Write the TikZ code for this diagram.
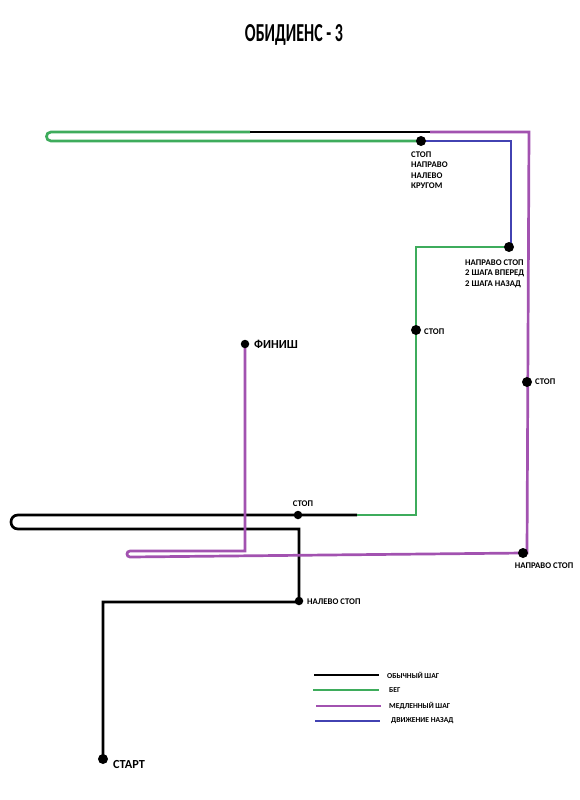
\documentclass[tikz,border=0pt]{standalone}
\usepackage{fontspec}
\setmainfont{Carlito}
\definecolor{gr}{RGB}{62,172,92}
\definecolor{pu}{RGB}{162,82,176}
\definecolor{bl}{RGB}{66,66,178}
\begin{document}
\begin{tikzpicture}[x=1pt,y=-1pt,
  route/.style={line width=2.7pt, line cap=butt, line join=miter},
  dot/.style={circle, fill=black, minimum size=10pt, inner sep=0pt},
  sdot/.style={circle, fill=black, minimum size=8.5pt, inner sep=0pt},
  lbl/.style={font=\bfseries\fontsize{8.7}{10.4}\selectfont, inner sep=0pt, align=left},
  big/.style={font=\bfseries\fontsize{12.3}{14}\selectfont, inner sep=0pt},
  leg/.style={font=\bfseries\fontsize{7.6}{9}\selectfont, inner sep=0pt, anchor=west}]
\useasboundingbox[fill=white] (0,0) rectangle (580,800);

% title
\node[inner sep=0pt] (title) at (294,35) {\resizebox{98pt}{17pt}{\bfseries ОБИДИЕНС - 3}};

% stop points
\coordinate (pstart) at (103,759);
\coordinate (pnalevo) at (299,601);
\coordinate (pstop1) at (298,515);
\coordinate (pstop2) at (416,330);
\coordinate (pnp1) at (509,247);
\coordinate (pkr) at (421,141);
\coordinate (pstop3) at (527,382);
\coordinate (pnp2) at (523,553);
\coordinate (pfin) at (245,344);

% corner coordinates
\coordinate (c1) at (103,602);
\coordinate (c2) at (299,602);
\coordinate (c3) at (299,529);
\coordinate (c4) at (18,529);
\coordinate (c5) at (18,515);
\coordinate (c6) at (357,515);
\coordinate (c7) at (416,515);
\coordinate (c8) at (416,247);
\coordinate (c9) at (511,247);
\coordinate (c10) at (511,141);
\coordinate (c11) at (51,141);
\coordinate (c12) at (51,132);
\coordinate (c13) at (250,132);
\coordinate (c14) at (430,132);
\coordinate (c15) at (529,132);
\coordinate (c16) at (527,553);
\coordinate (c17) at (130,557);
\coordinate (c18) at (130,551);
\coordinate (c19) at (245,551);

% route
\draw[route, black] (pstart) -- (c1) -- (c2) -- (c3) -- (c4)
  .. controls +(-9.3,0) and +(-9.3,0) .. (c5) -- (c6);
\draw[route, gr] (c6) -- (c7) -- (c8) -- (pnp1);
\draw[route, bl] (pnp1) -- (c9) -- (c10) -- (pkr);
\draw[route, gr] (pkr) -- (c11)
  .. controls +(-6,0) and +(-6,0) .. (c12) -- (c13);
\draw[route, black] (c13) -- (c14);
\draw[route, pu] (c14) -- (c15) -- (c16) -- (pnp2) -- (c17)
  .. controls +(-4,0) and +(-4,0) .. (c18) -- (c19) -- (pfin);

% dots
\node[dot] (start) at (pstart) {};
\node[sdot] (nalevo) at (pnalevo) {};
\node[sdot] (stop1) at (pstop1) {};
\node[dot] (stop2) at (pstop2) {};
\node[dot] (np1) at (pnp1) {};
\node[dot] (kr) at (pkr) {};
\node[dot] (stop3) at (pstop3) {};
\node[dot] (np2) at (pnp2) {};
\node[sdot] (fin) at (pfin) {};

% labels
\node[big, anchor=west] (tstart) at (113,764) {СТАРТ};
\node[big, anchor=west] (tfin) at (254,344) {ФИНИШ};
\node[lbl, anchor=west] (tnalevo) at (307,602) {НАЛЕВО СТОП};
\node[lbl] (tstop1) at (303,504) {СТОП};
\node[lbl, anchor=west] (tstop2) at (424,332) {СТОП};
\node[lbl, anchor=west] (tstop3) at (535,382) {СТОП};
\node[lbl] (tnp2) at (544,566) {НАПРАВО СТОП};
\node[lbl, anchor=north west] (tkr) at (411,151.3) {СТОП\\НАПРАВО\\НАЛЕВО\\КРУГОМ};
\node[lbl, anchor=north west] (tnp1) at (465,259.3) {НАПРАВО СТОП\\2 ШАГА ВПЕРЕД\\2 ШАГА НАЗАД};

% legend
\coordinate (l1a) at (314,675); \coordinate (l1b) at (379,675);
\coordinate (l2a) at (313,690); \coordinate (l2b) at (379,690);
\coordinate (l3a) at (316,706); \coordinate (l3b) at (381,706);
\coordinate (l4a) at (315,721); \coordinate (l4b) at (380,721);
\draw[route, black] (l1a) -- (l1b);
\draw[route, gr] (l2a) -- (l2b);
\draw[route, pu] (l3a) -- (l3b);
\draw[route, bl] (l4a) -- (l4b);
\node[leg] (t1) at (387,675) {ОБЫЧНЫЙ ШАГ};
\node[leg] (t2) at (389,690) {БЕГ};
\node[leg] (t3) at (389,706) {МЕДЛЕННЫЙ ШАГ};
\node[leg] (t4) at (391,721) {ДВИЖЕНИЕ НАЗАД};
\end{tikzpicture}
\end{document}
